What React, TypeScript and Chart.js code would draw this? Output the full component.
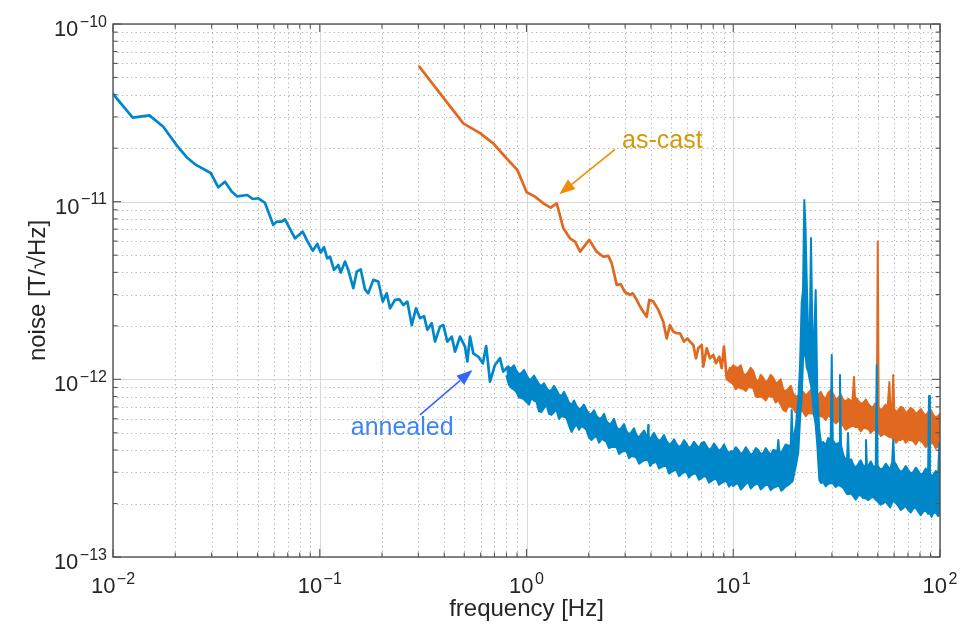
import React, { useEffect, useRef } from "react";
import { Chart, registerables } from "chart.js";

Chart.register(...registerables);

// ---------------- data (frequency in Hz, noise in pT/√Hz = 1e-12 T/√Hz) ----------------
// annealed sample, low-frequency part (single visible trace)
const annealedLineHz = [
  0.01, 0.01245, 0.015, 0.01751, 0.0203, 0.0227, 0.0252, 0.0297, 0.0323, 0.0348,
  0.0375, 0.0399, 0.0446, 0.0474, 0.0505, 0.0543, 0.0596, 0.0619, 0.0654, 0.0679,
  0.0759, 0.0827, 0.0865, 0.0925, 0.0973, 0.1011, 0.1048, 0.1087, 0.1121, 0.1172,
  0.1229, 0.1263, 0.1325, 0.1374, 0.1453, 0.151, 0.1578, 0.1655, 0.1717, 0.1816,
  0.1919, 0.2017, 0.2107, 0.2187, 0.2312, 0.2426, 0.2537, 0.2652, 0.2786, 0.2921,
  0.3055, 0.3194, 0.3314, 0.3479, 0.361, 0.3817, 0.3962, 0.414, 0.435, 0.4511,
  0.4769, 0.5042, 0.5175, 0.533, 0.553, 0.585, 0.615, 0.638, 0.666, 0.704,
  0.744, 0.772, 0.816, 0.848, 0.891, 0.93, 0.983, 1.04, 1.099,
];
const annealedLinePT = [
  40.4, 29.7, 30.6, 26.4, 20.8, 17.8, 16.1, 14.5, 12.05, 12.96,
  11.4, 10.7, 10.9, 10.35, 10.45, 9.86, 7.4, 7.72, 7.72, 7.96,
  6.22, 6.78, 6.09, 5.3, 5.78, 5.17, 5.54, 4.8, 4.9, 4.13,
  4.4, 3.99, 4.6, 4.13, 3.26, 4.04, 4.16, 3.21, 3.05, 3.63,
  3.55, 2.74, 3.05, 2.51, 2.8, 2.82, 2.62, 2.74, 2.02, 2.51,
  2.21, 2.27, 1.9, 2.07, 1.63, 1.98, 2.02, 1.63, 1.74, 1.43,
  1.74, 1.53, 1.26, 1.74, 1.4, 1.34, 1.23, 1.54, 0.97, 1.205,
  1.315, 1.105, 1.18, 1.014, 0.93, 0.99, 0.89, 0.95, 0.835,
];

// annealed sample, dense part: upper / lower envelope of the noisy trace
const annealedBandHz = [
  0.8, 0.823, 0.846, 0.87, 0.894, 0.92, 0.946, 0.973, 1.0, 1.028,
  1.057, 1.087, 1.118, 1.15, 1.182, 1.215, 1.249, 1.285, 1.321, 1.358,
  1.397, 1.436, 1.476, 1.518, 1.561, 1.605, 1.651, 1.697, 1.745, 1.795,
  1.845, 1.897, 1.951, 2.006, 2.063, 2.121, 2.181, 2.243, 2.306, 2.371,
  2.438, 2.506, 2.577, 2.65, 2.725, 2.802, 2.881, 2.962, 3.046, 3.132,
  3.22, 3.311, 3.405, 3.501, 3.6, 3.703, 3.806, 3.86, 3.88, 3.9,
  3.962, 4.024, 4.138, 4.254, 4.374, 4.498, 4.625, 4.755, 4.89, 5.028,
  5.17, 5.315, 5.465, 5.62, 5.778, 5.941, 6.108, 6.281, 6.458, 6.641,
  6.828, 7.021, 7.219, 7.423, 7.632, 7.848, 8.07, 8.298, 8.532, 8.773,
  9.021, 9.276, 9.537, 9.806, 10.0, 10.28, 10.57, 10.87, 11.18, 11.5,
  11.82, 12.15, 12.49, 12.85, 13.21, 13.58, 13.97, 14.36, 14.76, 15.18,
  15.61, 16.34, 16.52, 16.7, 17.07, 17.45, 17.94, 18.45, 18.97, 19.18,
  19.39, 19.51, 20.12, 20.64, 21.03, 21.43, 21.75, 22.06, 22.36, 22.66,
  23.07, 23.46, 23.77, 24.12, 24.59, 25.05, 25.5, 26.08, 26.58, 27.25,
  28.0, 28.81, 29.6, 29.94, 30.3, 31.2, 32.2, 32.5, 32.83, 33.2,
  34.05, 35.5, 35.9, 36.3, 37.2, 38.06, 39.14, 40.24, 41.37, 42.54,
  43.4, 43.86, 44.3, 44.98, 46.25, 47.55, 48.9, 49.41, 49.9, 51.6,
  53.15, 54.65, 56.2, 57.4, 58.7, 59.41, 60.1, 61.4, 62.81, 64.6,
  66.41, 68.3, 70.21, 72.2, 74.23, 76.3, 78.48, 80.7, 82.98, 85.3,
  87.6, 88.48, 89.4, 91.0, 92.76, 95.4, 98.06, 99.2, 100.0,
];
const annealedBandHighPT = [
  1.15, 1.16, 1.159, 1.2, 1.115, 1.07, 1.086, 1.13, 1.059, 1.0,
  1.005, 1.05, 0.992, 0.94, 0.918, 0.95, 0.895, 0.86, 0.872, 0.92,
  0.872, 0.82, 0.806, 0.85, 0.796, 0.74, 0.718, 0.76, 0.708, 0.68,
  0.69, 0.72, 0.673, 0.64, 0.639, 0.67, 0.622, 0.6, 0.606, 0.64,
  0.583, 0.56, 0.568, 0.6, 0.54, 0.52, 0.533, 0.56, 0.512, 0.49,
  0.506, 0.53, 0.486, 0.47, 0.493, 0.515, 0.48, 0.48, 0.554, 0.478,
  0.46, 0.474, 0.5, 0.468, 0.45, 0.462, 0.485, 0.45, 0.43, 0.438,
  0.46, 0.433, 0.415, 0.427, 0.455, 0.433, 0.41, 0.422, 0.445, 0.427,
  0.41, 0.438, 0.445, 0.422, 0.4, 0.411, 0.435, 0.416, 0.395, 0.406,
  0.43, 0.4, 0.385, 0.395, 0.39, 0.415, 0.4, 0.38, 0.39, 0.415,
  0.395, 0.375, 0.385, 0.41, 0.4, 0.38, 0.385, 0.41, 0.39, 0.375,
  0.4, 0.395, 0.456, 0.395, 0.385, 0.406, 0.43, 0.422, 0.427, 0.673,
  0.427, 0.456, 0.554, 0.766, 1.19, 2.69, 3.18, 10.23, 7.19, 3.63,
  1.67, 1.9, 6.25, 1.9, 1.67, 3.18, 0.838, 0.519, 0.438, 0.444,
  0.425, 0.468, 0.456, 1.372, 0.456, 0.43, 0.438, 0.438, 1.059, 0.427,
  0.375, 0.343, 0.499, 0.338, 0.355, 0.33, 0.318, 0.334, 0.35, 0.326,
  0.326, 0.456, 0.326, 0.326, 0.345, 0.321, 0.326, 1.205, 0.326, 0.31,
  0.317, 0.335, 0.321, 0.31, 0.343, 0.456, 0.343, 0.33, 0.313, 0.3,
  0.309, 0.325, 0.309, 0.295, 0.301, 0.318, 0.305, 0.29, 0.297, 0.315,
  0.301, 0.806, 0.301, 0.28, 0.29, 0.305, 0.297, 0.438, 0.309,
];
const annealedBandLowPT = [
  1.04, 0.93, 0.895, 0.875, 0.849, 0.79, 0.786, 0.77, 0.746, 0.72,
  0.786, 0.76, 0.746, 0.66, 0.655, 0.69, 0.718, 0.64, 0.631, 0.655,
  0.673, 0.6, 0.622, 0.615, 0.606, 0.55, 0.506, 0.535, 0.561, 0.52,
  0.547, 0.535, 0.519, 0.47, 0.456, 0.47, 0.48, 0.44, 0.462, 0.455,
  0.444, 0.41, 0.416, 0.418, 0.416, 0.38, 0.39, 0.395, 0.395, 0.36,
  0.37, 0.368, 0.361, 0.335, 0.343, 0.35, 0.352, 0.35, 0.348, 0.346,
  0.325, 0.334, 0.34, 0.343, 0.315, 0.321, 0.325, 0.326, 0.295, 0.301,
  0.307, 0.309, 0.285, 0.293, 0.3, 0.301, 0.28, 0.29, 0.295, 0.293,
  0.272, 0.278, 0.285, 0.282, 0.262, 0.268, 0.274, 0.275, 0.255, 0.261,
  0.266, 0.268, 0.249, 0.258, 0.251, 0.258, 0.258, 0.24, 0.248, 0.258,
  0.264, 0.243, 0.251, 0.257, 0.258, 0.24, 0.248, 0.255, 0.254, 0.238,
  0.245, 0.251, 0.251, 0.251, 0.236, 0.241, 0.25, 0.254, 0.262, 0.264,
  0.268, 0.278, 0.33, 0.39, 0.59, 0.796, 1.286, 1.464, 1.372, 1.174,
  1.101, 0.992, 0.93, 0.817, 0.631, 0.554, 0.427, 0.271, 0.261, 0.264,
  0.25, 0.258, 0.26, 0.26, 0.261, 0.248, 0.254, 0.254, 0.252, 0.25,
  0.245, 0.226, 0.226, 0.226, 0.228, 0.22, 0.21, 0.223, 0.222, 0.215,
  0.214, 0.213, 0.212, 0.209, 0.215, 0.218, 0.21, 0.208, 0.206, 0.197,
  0.201, 0.205, 0.196, 0.19, 0.203, 0.207, 0.205, 0.2, 0.194, 0.184,
  0.189, 0.193, 0.184, 0.178, 0.187, 0.19, 0.18, 0.172, 0.18, 0.183,
  0.175, 0.176, 0.177, 0.168, 0.177, 0.178, 0.17, 0.172, 0.173,
];

// as-cast sample, low-frequency part (single visible trace)
const asCastLineHz = [
  0.303, 0.3817, 0.4947, 0.5958, 0.691, 0.802, 0.9026, 1.002, 1.099, 1.206,
  1.309, 1.4, 1.507, 1.623, 1.717, 1.815, 2.012, 2.185, 2.352, 2.487,
  2.583, 2.731, 2.855, 2.995, 3.168, 3.264, 3.412, 3.54, 3.672, 3.814,
  3.926, 4.105, 4.341, 4.589, 4.766, 4.944, 5.129, 5.327, 5.527, 5.778,
  5.995, 6.178, 6.41, 6.604, 6.776, 7.037, 7.164, 7.439, 7.72, 8.008,
  8.253, 8.56, 8.793, 9.02, 9.297, 9.645, 10.0, 10.57,
];
const asCastLinePT = [
  57.5, 40.7, 27.6, 24.3, 21.3, 17.5, 15.1, 11.3, 10.67, 9.79,
  9.25, 9.79, 7.09, 6.22, 5.96, 5.23, 6.09, 5.23, 4.9, 4.95,
  4.5, 3.4, 3.43, 3.09, 2.99, 3.05, 2.8, 2.57, 2.4, 2.25,
  2.8, 2.74, 2.46, 2.11, 1.7, 2.02, 1.855, 1.817, 1.817, 1.63,
  1.7, 1.63, 1.562, 1.314, 1.496, 1.562, 1.179, 1.496, 1.314, 1.372,
  1.232, 1.342, 1.155, 1.527, 1.014, 1.155, 0.992, 1.105,
];

// as-cast sample, dense part: upper / lower envelope of the noisy trace
const asCastBandHz = [
  9.3, 10.0, 10.28, 10.57, 10.87, 11.18, 11.5, 11.82, 12.15, 12.49,
  12.85, 13.21, 13.58, 13.97, 14.36, 14.76, 15.18, 15.61, 16.05, 16.51,
  16.97, 17.45, 17.94, 18.45, 18.97, 19.51, 20.06, 20.63, 21.21, 21.81,
  22.43, 23.06, 23.71, 24.38, 25.07, 25.77, 26.5, 27.25, 28.02, 28.81,
  29.62, 30.46, 31.32, 32.2, 33.11, 34.05, 35.01, 36.0, 37.7, 38.37,
  38.9, 39.56, 40.24, 41.37, 42.54, 43.74, 44.98, 46.25, 47.55, 48.5,
  49.5, 50.0, 50.5, 51.8, 53.15, 54.5, 55.8, 56.9, 57.6, 58.7,
  59.4, 60.1, 61.4, 62.81, 64.6, 66.41, 68.3, 70.21, 72.2, 74.23,
  76.3, 78.48, 80.7, 82.98, 85.3, 87.73, 90.2, 92.76, 95.4, 98.06,
  100.0,
];
const asCastBandHighPT = [
  1.06, 1.2, 1.17, 1.159, 1.2, 1.073, 1.06, 1.101, 1.16, 1.115,
  1.0, 0.967, 1.06, 1.018, 0.96, 0.992, 1.06, 1.018, 0.95, 0.967,
  1.0, 0.872, 0.86, 0.883, 0.92, 0.827, 0.8, 0.806, 0.86, 0.849,
  0.81, 0.838, 0.87, 0.806, 0.79, 0.817, 0.85, 0.796, 0.78, 0.838,
  0.87, 0.827, 0.77, 0.786, 0.82, 0.766, 0.75, 0.776, 0.746, 1.032,
  0.746, 0.78, 0.756, 0.73, 0.737, 0.77, 0.727, 0.7, 0.699, 0.73,
  0.699, 5.96, 0.699, 0.67, 0.69, 0.72, 0.69, 0.967, 0.69, 0.69,
  1.059, 0.68, 0.65, 0.673, 0.7, 0.69, 0.645, 0.664, 0.69, 0.673,
  0.64, 0.655, 0.68, 0.647, 0.625, 0.655, 0.675, 0.631, 0.61, 0.622,
  0.639,
];
const asCastBandLowPT = [
  1.0, 0.94, 0.88, 0.906, 0.89, 0.883, 0.86, 0.906, 0.9, 0.895,
  0.8, 0.796, 0.8, 0.786, 0.76, 0.806, 0.8, 0.796, 0.74, 0.766,
  0.72, 0.673, 0.66, 0.708, 0.7, 0.69, 0.65, 0.673, 0.67, 0.655,
  0.62, 0.647, 0.645, 0.639, 0.6, 0.622, 0.62, 0.614, 0.59, 0.631,
  0.61, 0.59, 0.565, 0.583, 0.57, 0.547, 0.52, 0.533, 0.547, 0.547,
  0.54, 0.54, 0.54, 0.51, 0.533, 0.53, 0.526, 0.5, 0.519, 0.515,
  0.512, 0.512, 0.506, 0.48, 0.493, 0.49, 0.48, 0.474, 0.474, 0.468,
  0.462, 0.462, 0.44, 0.456, 0.455, 0.468, 0.44, 0.456, 0.455, 0.45,
  0.43, 0.456, 0.45, 0.438, 0.415, 0.433, 0.435, 0.438, 0.41, 0.422,
  0.427,
];

// axes
const xTickExponents = [-2, -1, 0, 1, 2];
const yTickExponents = [-13, -12, -11, -10];
const minorMultipliers = [2, 3, 4, 5, 6, 7, 8, 9];
const xAxisTitle = "frequency [Hz]";
const yAxisTitle = "noise [T/\u221AHz]";

// annotations (positions in Hz / pT)
const annotationTexts = ["as-cast", "annealed"];
const annotationTextHz = [2.9, 0.1412];
const annotationTextPT = [20.1, 0.486];
const arrowTailHz = [2.68, 0.3055];
const arrowTailPT = [19.7, 0.631];
const arrowTipHz = [1.44, 0.548];
const arrowTipPT = [11.0, 1.13];

// ---------------- styling ----------------
const BLUE = "#0087C9";
const ORANGE = "#E0691F";
const TEXT_COLORS = ["#D4990A", "#3D85F5"];
const ARROW_COLORS = ["#F08C00", "#3366FF"];
const FONT = '"Liberation Sans", Arial, Helvetica, sans-serif';
const AXIS_COLOR = "#555555";
const LABEL_COLOR = "#262626";
const PT = 1e-12;

function toPoints(hz: number[], pT: number[]) {
  return hz.map((f, i) => ({ x: f, y: pT[i] * PT }));
}

function drawPow(ctx: CanvasRenderingContext2D, exp: number, x: number, baseY: number, align: "center" | "right") {
  const base = "10";
  const sup = exp < 0 ? "\u2212" + Math.abs(exp) : String(exp);
  ctx.font = `22px ${FONT}`;
  const wb = ctx.measureText(base).width;
  ctx.font = `16px ${FONT}`;
  const ws = ctx.measureText(sup).width;
  const gap = 1.5;
  const total = wb + gap + ws;
  const start = align === "center" ? x - total / 2 : x - total;
  ctx.textAlign = "left";
  ctx.textBaseline = "alphabetic";
  ctx.font = `22px ${FONT}`;
  ctx.fillText(base, start, baseY);
  ctx.font = `16px ${FONT}`;
  ctx.fillText(sup, start + wb + gap, baseY - 9.5);
}

const matlabAxes = {
  id: "matlabAxes",
  beforeDatasetsDraw(chart: any) {
    const { ctx, chartArea: a, scales } = chart;
    const xs = scales.x;
    const ys = scales.y;
    ctx.save();
    ctx.lineWidth = 1;
    // minor grid (dotted)
    ctx.strokeStyle = "rgba(120,120,120,0.6)";
    ctx.setLineDash([1.2, 3.3]);
    for (const e of xTickExponents.slice(0, -1)) {
      for (const m of minorMultipliers) {
        const px = Math.round(xs.getPixelForValue(m * Math.pow(10, e))) + 0.5;
        ctx.beginPath();
        ctx.moveTo(px, a.top);
        ctx.lineTo(px, a.bottom);
        ctx.stroke();
      }
    }
    for (const e of yTickExponents.slice(0, -1)) {
      for (const m of minorMultipliers) {
        const py = Math.round(ys.getPixelForValue(m * Math.pow(10, e))) + 0.5;
        ctx.beginPath();
        ctx.moveTo(a.left, py);
        ctx.lineTo(a.right, py);
        ctx.stroke();
      }
    }
    // major grid (solid, light)
    ctx.setLineDash([]);
    ctx.strokeStyle = "#d8d8d8";
    for (const e of xTickExponents) {
      const px = Math.round(xs.getPixelForValue(Math.pow(10, e))) + 0.5;
      ctx.beginPath();
      ctx.moveTo(px, a.top);
      ctx.lineTo(px, a.bottom);
      ctx.stroke();
    }
    for (const e of yTickExponents) {
      const py = Math.round(ys.getPixelForValue(Math.pow(10, e))) + 0.5;
      ctx.beginPath();
      ctx.moveTo(a.left, py);
      ctx.lineTo(a.right, py);
      ctx.stroke();
    }
    ctx.restore();
  },
  afterDatasetsDraw(chart: any) {
    const { ctx, chartArea: a, scales } = chart;
    const xs = scales.x;
    const ys = scales.y;
    ctx.save();
    // box
    ctx.strokeStyle = AXIS_COLOR;
    ctx.lineWidth = 1.4;
    ctx.strokeRect(a.left, a.top, a.right - a.left, a.bottom - a.top);
    // ticks (inside, all four sides)
    ctx.lineWidth = 1.1;
    const tick = (x1: number, y1: number, x2: number, y2: number) => {
      ctx.beginPath();
      ctx.moveTo(x1, y1);
      ctx.lineTo(x2, y2);
      ctx.stroke();
    };
    for (let i = 0; i < xTickExponents.length; i++) {
      const e = xTickExponents[i];
      const px = xs.getPixelForValue(Math.pow(10, e));
      tick(px, a.bottom, px, a.bottom - 8);
      tick(px, a.top, px, a.top + 8);
      if (i < xTickExponents.length - 1) {
        for (const m of minorMultipliers) {
          const p = xs.getPixelForValue(m * Math.pow(10, e));
          tick(p, a.bottom, p, a.bottom - 4.5);
          tick(p, a.top, p, a.top + 4.5);
        }
      }
    }
    for (let i = 0; i < yTickExponents.length; i++) {
      const e = yTickExponents[i];
      const py = ys.getPixelForValue(Math.pow(10, e));
      tick(a.left, py, a.left + 8, py);
      tick(a.right, py, a.right - 8, py);
      if (i < yTickExponents.length - 1) {
        for (const m of minorMultipliers) {
          const p = ys.getPixelForValue(m * Math.pow(10, e));
          tick(a.left, p, a.left + 4.5, p);
          tick(a.right, p, a.right - 4.5, p);
        }
      }
    }
    // tick labels
    ctx.fillStyle = LABEL_COLOR;
    for (const e of xTickExponents) {
      drawPow(ctx, e, xs.getPixelForValue(Math.pow(10, e)), a.bottom + 36, "center");
    }
    for (const e of yTickExponents) {
      drawPow(ctx, e, a.left - 6, ys.getPixelForValue(Math.pow(10, e)) + 12, "right");
    }
    // axis titles
    ctx.font = `24px ${FONT}`;
    ctx.textAlign = "center";
    ctx.textBaseline = "alphabetic";
    ctx.fillText(xAxisTitle, (a.left + a.right) / 2, 616);
    ctx.save();
    ctx.translate(45, (a.top + a.bottom) / 2);
    ctx.rotate(-Math.PI / 2);
    ctx.fillText(yAxisTitle, 0, 0);
    ctx.restore();
    // annotations
    for (let i = 0; i < annotationTexts.length; i++) {
      const tx = xs.getPixelForValue(arrowTailHz[i]);
      const ty = ys.getPixelForValue(arrowTailPT[i] * PT);
      const hx = xs.getPixelForValue(arrowTipHz[i]);
      const hy = ys.getPixelForValue(arrowTipPT[i] * PT);
      const ang = Math.atan2(hy - ty, hx - tx);
      const headLen = 16;
      const headHalf = 6;
      const bx = hx - headLen * Math.cos(ang);
      const by = hy - headLen * Math.sin(ang);
      ctx.strokeStyle = ARROW_COLORS[i];
      ctx.fillStyle = ARROW_COLORS[i];
      ctx.lineWidth = 1.6;
      ctx.beginPath();
      ctx.moveTo(tx, ty);
      ctx.lineTo(bx, by);
      ctx.stroke();
      ctx.beginPath();
      ctx.moveTo(hx, hy);
      ctx.lineTo(bx + headHalf * Math.sin(ang), by - headHalf * Math.cos(ang));
      ctx.lineTo(bx - headHalf * Math.sin(ang), by + headHalf * Math.cos(ang));
      ctx.closePath();
      ctx.fill();
      ctx.fillStyle = TEXT_COLORS[i];
      ctx.font = `25px ${FONT}`;
      ctx.textAlign = "left";
      ctx.textBaseline = "alphabetic";
      ctx.fillText(
        annotationTexts[i],
        xs.getPixelForValue(annotationTextHz[i]),
        ys.getPixelForValue(annotationTextPT[i] * PT)
      );
    }
    ctx.restore();
  },
};

export default function App() {
  const ref = useRef<HTMLCanvasElement>(null);
  useEffect(() => {
    const canvas = ref.current;
    if (!canvas) return;
    const lineStyle = { pointRadius: 0, tension: 0, borderJoinStyle: "round", borderCapStyle: "round" };
    const chart = new Chart(canvas, {
      type: "line",
      data: {
        datasets: [
          { ...lineStyle, data: toPoints(annealedLineHz, annealedLinePT), borderColor: BLUE, borderWidth: 2.7, fill: false },
          { ...lineStyle, data: toPoints(annealedBandHz, annealedBandHighPT), borderColor: BLUE, borderWidth: 2, fill: false },
          { ...lineStyle, data: toPoints(annealedBandHz, annealedBandLowPT), borderColor: BLUE, borderWidth: 2, backgroundColor: BLUE, fill: "-1" },
          { ...lineStyle, data: toPoints(asCastLineHz, asCastLinePT), borderColor: ORANGE, borderWidth: 2.7, fill: false },
          { ...lineStyle, data: toPoints(asCastBandHz, asCastBandHighPT), borderColor: ORANGE, borderWidth: 2, fill: false },
          { ...lineStyle, data: toPoints(asCastBandHz, asCastBandLowPT), borderColor: ORANGE, borderWidth: 2, backgroundColor: ORANGE, fill: "-1" },
        ] as any,
      },
      options: {
        responsive: false,
        animation: false,
        layout: { padding: { top: 24, right: 24, left: 0, bottom: 0 } },
        plugins: { legend: { display: false }, tooltip: { enabled: false }, title: { display: false } },
        scales: {
          x: {
            type: "logarithmic",
            min: 0.01,
            max: 100,
            grid: { display: false },
            border: { display: false },
            ticks: { display: false },
            afterFit: (s: any) => {
              s.height = 70;
            },
          },
          y: {
            type: "logarithmic",
            min: 1e-13,
            max: 1e-10,
            grid: { display: false },
            border: { display: false },
            ticks: { display: false },
            afterFit: (s: any) => {
              s.width = 113;
            },
          },
        },
      } as any,
      plugins: [matlabAxes],
    });
    return () => chart.destroy();
  }, []);
  return (
    <div style={{ position: "fixed", left: 0, top: 0, width: 964, height: 627, background: "#ffffff" }}>
      <canvas ref={ref} width={964} height={627} style={{ display: "block", width: 964, height: 627 }} />
    </div>
  );
}
